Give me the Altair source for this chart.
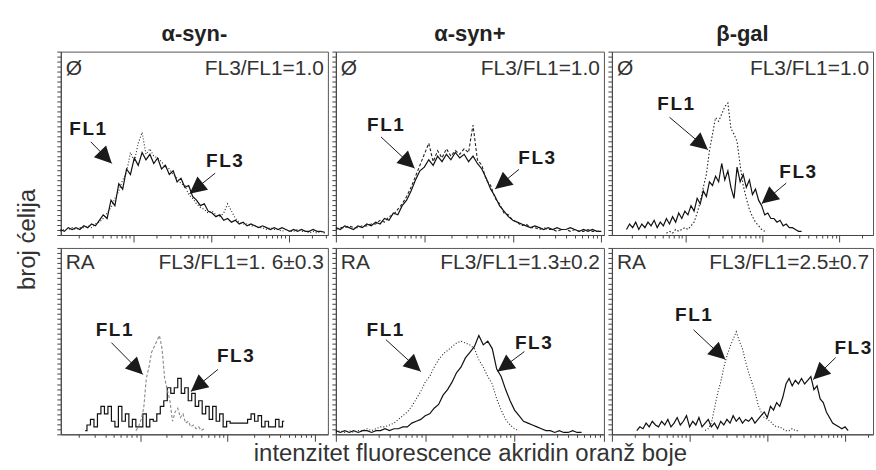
import math
import altair as alt
import numpy as np
import pandas as pd

FONT = "Liberation Sans"

# ---------------- panel meta ----------------
COL_TITLES = ["α-syn-", "α-syn+", "β-gal"]
TREATMENT = ["Ø", "Ø", "Ø", "RA", "RA", "RA"]
RATIO = ["FL3/FL1=1.0", "FL3/FL1=1.0", "FL3/FL1=1.0",
         "FL3/FL1=1. 6±0.3", "FL3/FL1=1.3±0.2", "FL3/FL1=2.5±0.7"]
Y_TITLE = "broj ćelija"
X_TITLE = "intenzitet fluorescence akridin oranž boje"
# x axis range of every panel, in decades (log10 of intensity)
X_LO = [0.064, 0.0, 0.04, 0.09, 0.0, 0.0]
X_HI = [3.5, 3.03, 3.44, 3.15, 3.0, 3.36]
CORNER_Y = [90.5, 90.5, 90.5, 92.0, 92.0, 92.0]

# ---------------- histograms (counts, % of panel height) ----------------
FL3_START = [0.06, 0.0, 0.23, 0.37, 0.0, 0.32]
FL3_STEP = [0.05, 0.05, 0.04, 0.04, 0.05, 0.04]
FL1_START = [0.06, 0.0, 0.75, 0.95, 0.0, 1.2]
FL1_STEP = [0.05, 0.05, 0.04, 0.03, 0.05, 0.04]

P1T_FL3 = [3, 2, 4, 3, 4, 3, 5, 4, 6, 5, 8, 11, 9, 19, 16, 28, 25, 36, 33, 42,
           38, 45, 41, 44, 39, 42, 36, 38, 33, 35, 29, 31, 26, 27, 21, 19, 16, 17, 13, 12,
           10, 11, 8, 9, 7, 8, 6, 7, 5, 6, 5, 4, 5, 4, 3, 4, 3, 4, 3, 2,
           3, 2, 3, 2, 2, 3, 2, 2, 1.5]
P1T_FL1 = [2, 3, 3, 4, 3, 4, 4, 5, 4, 6, 7, 9, 12, 15, 20, 24, 30, 34, 45, 40,
           50, 56, 44, 47, 43, 42, 40, 37, 36, 33, 31, 28, 27, 22, 20, 17, 15, 14, 12, 13,
           11, 10, 12, 17, 13, 9, 7, 6, 6, 5, 5, 4, 4, 3, 4, 3, 3, 2, 3, 2,
           2, 3, 2, 2, 1, 2, 1, 2, 1]
P2T_FL3 = [4, 3, 5, 4, 3, 5, 4, 6, 5, 7, 6, 9, 8, 12, 11, 16, 19, 24, 30, 35,
           37, 41, 38, 43, 40, 44, 41, 45, 42, 44, 40, 43, 39, 36, 31, 25, 21, 16, 13, 10,
           8, 7, 6, 5, 4, 5, 4, 3, 4, 3, 4, 3, 3, 4, 3, 2, 3, 2, 3, 2, 2]
P2T_FL1 = [3, 4, 4, 5, 4, 4, 5, 5, 6, 6, 8, 7, 10, 11, 14, 17, 21, 26, 32, 38,
           44, 50, 40, 46, 42, 47, 43, 46, 44, 47, 45, 60, 41, 38, 30, 27, 20, 17, 12, 11,
           8, 7, 5, 6, 4, 4, 3, 4, 3, 3, 2, 3, 3, 2, 3, 2, 2, 3, 2, 2, 2]
P3T_FL3 = [3, 6, 4, 7, 3, 6, 4, 7, 5, 8, 4, 7, 5, 9, 6, 10, 7, 12, 9, 13,
           11, 16, 13, 20, 17, 24, 21, 29, 27, 32, 29, 39, 30, 35, 26, 20, 37, 29, 33, 26,
           30, 22, 25, 19, 16, 11, 12, 9, 9, 7, 8, 5, 6, 4, 4, 3, 2, 2]
P3T_FL1 = [1, 2, 1, 3, 2, 3, 4, 3, 5, 7, 12, 18, 26, 33, 46, 55, 64, 62, 66, 70,
           72, 58, 55, 51, 38, 27, 20, 14, 10, 7, 5, 3, 2]
P1B_FL3 = [2, 5, 8, 4, 11, 15, 11, 15, 7, 4, 15, 7, 11, 4, 8, 4, 4, 11, 4, 8,
           7, 11, 15, 18, 25, 22, 25, 30, 22, 25, 18, 22, 15, 18, 11, 15, 8, 15, 7, 11,
           4, 7, 6, 6, 6, 6, 6, 8, 11, 7, 10, 4, 7, 4, 4, 8, 4, 7]
P1B_FL1 = [2, 4, 8, 14, 30, 36, 44, 47, 50, 53, 46, 30, 24, 18, 7, 12, 14, 9, 11, 6,
           7, 4, 5, 3, 4, 2, 3]
P2B_FL3 = [2, 1, 2, 1, 2, 1, 2, 2, 1, 2, 2, 3, 2, 3, 3, 4, 4, 6, 7, 8,
           10, 11, 14, 16, 21, 24, 28, 33, 36, 41, 44, 47, 53, 48, 50, 46, 35, 31, 24, 18,
           13, 10, 7, 6, 5, 4, 3, 2, 2, 1, 2, 1, 1, 2, 1, 1]
P2B_FL1 = [1, 2, 1, 2, 1, 2, 2, 3, 2, 3, 4, 4, 5, 6, 8, 10, 12, 15, 19, 23,
           28, 31, 36, 40, 43, 45, 47, 49, 50, 49, 48, 46, 40, 36, 31, 27, 19, 13, 8, 5, 3, 2]
P3B_FL3 = [2, 4, 3, 6, 4, 7, 5, 4, 7, 5, 8, 4, 6, 9, 5, 7, 10, 4, 7, 5,
           9, 4, 6, 8, 4, 6, 3, 7, 5, 8, 6, 10, 7, 9, 6, 8, 7, 9, 6, 8,
           10, 12, 9, 15, 13, 17, 15, 20, 27, 30, 26, 29, 27, 30, 27, 29, 31, 24, 26, 19,
           17, 12, 9, 6, 5, 4, 3, 4, 2]
P3B_FL1 = [2, 3, 6, 14, 22, 28, 36, 42, 47, 51, 55, 50, 46, 39, 33, 28, 23, 16, 12, 9,
           8, 7, 5, 4, 4, 3, 2, 2, 3, 2, 2]

FL3_VALUES = [P1T_FL3, P2T_FL3, P3T_FL3, P1B_FL3, P2B_FL3, P3B_FL3]
FL1_VALUES = [P1T_FL1, P2T_FL1, P3T_FL1, P1B_FL1, P2B_FL1, P3B_FL1]

# ---------------- annotations (data coordinates) ----------------
FL1_LABEL_X = [0.41, 0.56, 0.87, 0.70, 0.55, 1.05]
FL1_LABEL_Y = [57.8, 59.9, 71.7, 56.1, 56.1, 64.2]
FL1_TAIL_X = [0.45, 0.51, 0.79, 0.67, 0.56, 1.05]
FL1_TAIL_Y = [50.8, 53.5, 64.2, 49.2, 50.8, 56.1]
FL1_HEAD_X = [0.72, 0.89, 1.29, 1.03, 0.95, 1.46]
FL1_HEAD_Y = [39.0, 36.4, 46.5, 32.1, 33.7, 40.1]
FL3_LABEL_X = [2.17, 2.27, 2.46, 2.09, 2.21, 3.10]
FL3_LABEL_Y = [40.1, 42.2, 34.2, 42.2, 49.2, 46.5]
FL3_TAIL_X = [2.05, 2.07, 2.31, 1.89, 2.11, 2.88]
FL3_TAIL_Y = [33.7, 35.8, 28.3, 34.8, 44.4, 41.2]
FL3_HEAD_X = [1.72, 1.80, 1.99, 1.58, 1.81, 2.59]
FL3_HEAD_Y = [22.5, 25.1, 17.1, 23.0, 33.7, 29.4]

# ---------------- styles ----------------
PANEL_W = [268, 269, 262]
PANEL_H = [184, 187]
FL1_DASH = [[1, 2], [3, 2], [1.5, 2], [3, 2], [1, 2], [1, 2]]
FL1_COLOR = ["#222", "#222", "#222", "#888", "#222", "#222"]
FL3_INTERP = ["linear", "linear", "linear", "step", "linear", "linear"]
ARROW = "M0,0L0.85,1.7L-0.85,1.7Z"
INK = "#1a1a1a"


def series_df(start, step, vals):
    return pd.DataFrame({"x": [start + k * step for k in range(len(vals))], "y": vals})


def make_panel(i):
    lo, hi = X_LO[i], X_HI[i]
    w = PANEL_W[i % 3]
    h = PANEL_H[i // 3]
    xs = alt.Scale(domain=[lo, hi], nice=False, zero=False)
    ys = alt.Scale(domain=[0, 100], nice=False, zero=False)
    minor = [float(round(n + math.log10(k), 4)) for n in range(0, 4) for k in range(2, 10)
             if lo <= n + math.log10(k) <= hi]
    major = [n for n in range(0, 5) if lo <= n <= hi]
    yticks = [float(round(v, 2)) for v in np.arange(0, 100.01, 2.7)]

    xa = dict(values=minor, tickSize=3, labels=False, grid=False, orient="bottom", domain=True)
    if i == 4:
        xa.update(title=X_TITLE, titleFont=FONT, titleFontSize=24, titleFontWeight="normal",
                  titleColor="#333", titlePadding=4)
    else:
        xa.update(title=None)
    x_minor = alt.Axis(**xa)
    x_major = alt.Axis(values=major, tickSize=7, labels=False, title=None, grid=False,
                       orient="bottom", domain=False)
    ya = dict(values=yticks, tickSize=4, labels=False, grid=False, orient="left", domain=True)
    if i == 0:
        ya.update(title=Y_TITLE, titleFont=FONT, titleFontSize=24, titleFontWeight="normal",
                  titleColor="#333", titleX=-33, titleY=188, titleBaseline="middle",
                  titleAngle=270)
    else:
        ya.update(title=None)
    y_axis = alt.Axis(**ya)

    d3 = series_df(FL3_START[i], FL3_STEP[i], FL3_VALUES[i])
    d1 = series_df(FL1_START[i], FL1_STEP[i], FL1_VALUES[i])

    def Y(field):
        return alt.Y(field, scale=ys, axis=y_axis)

    fl3 = alt.Chart(d3).mark_line(color="#111", strokeWidth=1.2,
                                  interpolate=FL3_INTERP[i]).encode(
        x=alt.X("x:Q", scale=xs, axis=x_minor), y=Y("y:Q"))
    fl1 = alt.Chart(d1).mark_line(color=FL1_COLOR[i], strokeWidth=1.1,
                                  strokeDash=FL1_DASH[i]).encode(
        x=alt.X("x:Q", scale=xs, axis=None), y=Y("y:Q"))

    px_per_x = w / (hi - lo)
    px_per_y = h / 100.0
    tx = [FL1_TAIL_X[i], FL3_TAIL_X[i]]
    ty = [FL1_TAIL_Y[i], FL3_TAIL_Y[i]]
    hx = [FL1_HEAD_X[i], FL3_HEAD_X[i]]
    hy = [FL1_HEAD_Y[i], FL3_HEAD_Y[i]]
    ang = []
    for k in range(2):
        dx = (hx[k] - tx[k]) * px_per_x
        dy = -(hy[k] - ty[k]) * px_per_y
        ang.append(math.degrees(math.atan2(dx, -dy)) % 360)
    ann = pd.DataFrame({
        "label": ["F\u200aL\u200a1", "F\u200aL\u200a3"],
        "lx": [FL1_LABEL_X[i], FL3_LABEL_X[i]],
        "ly": [FL1_LABEL_Y[i], FL3_LABEL_Y[i]],
        "tx": tx, "ty": ty, "hx": hx, "hy": hy, "ang": ang,
    })

    shafts = alt.Chart(ann).mark_rule(color=INK, strokeWidth=1).encode(
        x=alt.X("tx:Q", scale=xs, axis=None), y=Y("ty:Q"),
        x2="hx:Q", y2="hy:Q")
    heads = alt.Chart(ann).mark_point(shape=ARROW, filled=True, size=400, color=INK,
                                      opacity=1, strokeWidth=0).encode(
        x=alt.X("hx:Q", scale=xs, axis=None), y=Y("hy:Q"),
        angle=alt.Angle("ang:Q", scale=None))
    labels = alt.Chart(ann).mark_text(font=FONT, fontSize=19, fontWeight="bold",
                                      color=INK, baseline="middle").encode(
        x=alt.X("lx:Q", scale=xs, axis=None), y=Y("ly:Q"),
        text="label:N")

    cl = pd.DataFrame({"x": [lo], "y": [CORNER_Y[i]], "t": [TREATMENT[i]]})
    cr = pd.DataFrame({"x": [hi], "y": [CORNER_Y[i]], "t": [RATIO[i]]})
    corner_l = alt.Chart(cl).mark_text(font=FONT, fontSize=21, color="#333", align="left",
                                       baseline="middle", dx=5).encode(
        x=alt.X("x:Q", scale=xs, axis=x_major), y=Y("y:Q"),
        text="t:N")
    corner_r = alt.Chart(cr).mark_text(font=FONT, fontSize=21, color="#333", align="right",
                                       baseline="middle", dx=-4).encode(
        x=alt.X("x:Q", scale=xs, axis=None), y=Y("y:Q"),
        text="t:N")

    layer = alt.layer(fl3, fl1, shafts, heads, labels, corner_l, corner_r).resolve_axis(
        x="independent")
    props = dict(width=w, height=h)
    if i < 3:
        props["title"] = alt.TitleParams(COL_TITLES[i], font=FONT, fontSize=22,
                                         fontWeight="bold", color="#222", anchor="middle",
                                         frame="group", offset=5)
    return layer.properties(**props)


chart = alt.concat(*[make_panel(i) for i in range(6)], columns=3,
                   spacing={"row": 13, "column": 8}, bounds="flush", align="each").properties(
    padding={"left": 15, "top": 22, "right": 2, "bottom": 2},
    background="white",
).configure_view(stroke="#555", strokeWidth=1).configure_axis(
    domainColor="#444", tickColor="#444", domainWidth=1, tickWidth=1)

chart.save("out.html", embed_options={"renderer": "svg", "actions": False})
